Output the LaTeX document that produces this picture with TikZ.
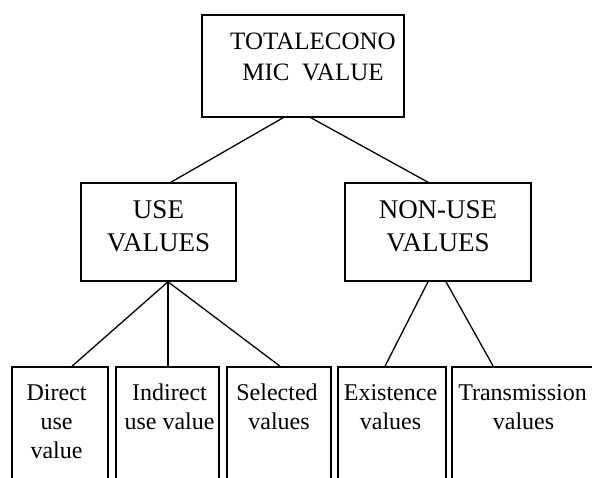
\documentclass[tikz,border=0pt]{standalone}
\usepackage{fontspec}
\setmainfont{Liberation Serif}
\begin{document}
\begin{tikzpicture}[x=1pt,y=-1pt,
  box/.style={draw,line width=1.6pt,inner sep=0pt,rectangle},
  conn/.style={line width=1.3pt},
  big/.style={anchor=base,inner sep=0pt,font=\fontsize{25}{30}\selectfont},
  mid/.style={anchor=base,inner sep=0pt,font=\fontsize{27}{32}\selectfont},
  small/.style={anchor=base,inner sep=0pt,font=\fontsize{24}{28}\selectfont}]
\useasboundingbox (0,0) rectangle (592,477);
\clip (0,0) rectangle (592,477);
% boxes
\node[box,minimum width=202pt,minimum height=102pt] (tev) at (303,66) {};
\node[box,minimum width=155pt,minimum height=98pt] (use) at (158.5,232) {};
\node[box,minimum width=186pt,minimum height=98pt] (non) at (438,232) {};
\node[box,minimum width=96pt,minimum height=128pt] (b1) at (60,431) {};
\node[box,minimum width=103pt,minimum height=128pt] (b2) at (167.5,431) {};
\node[box,minimum width=104pt,minimum height=128pt] (b3) at (279,431) {};
\node[box,minimum width=108pt,minimum height=128pt] (b4) at (392,431) {};
\node[box,minimum width=198pt,minimum height=128pt] (b5) at (551,431) {};
% texts
\node[big] (t1) at (313,49) {TOTALECONO};
\node[big] (t2) at (313,80) {MIC\ \ VALUE};
\node[mid] (u1) at (158.5,218) {USE};
\node[mid] (u2) at (158.5,251) {VALUES};
\node[mid] (n1) at (438,218) {NON-USE};
\node[mid] (n2) at (438,251) {VALUES};
\node[small] (d1) at (56.5,400) {Direct};
\node[small] (d2) at (56.5,429) {use};
\node[small] (d3) at (56.5,458) {value};
\node[small] (i1) at (169.5,400) {Indirect};
\node[small] (i2) at (169.5,429) {use value};
\node[small] (s1) at (277,400) {Selected};
\node[small] (s2) at (279,429) {values};
\node[small] (e1) at (390.5,400) {Existence};
\node[small] (e2) at (390.5,429) {values};
\node[small] (r1) at (522.5,400) {Transmission};
\node[small] (r2) at (523.5,429) {values};
% connectors
\draw[conn] ([xshift=-20pt]tev.south) -- ([xshift=12.5pt]use.north);
\draw[conn] ([xshift=8pt]tev.south) -- ([xshift=-10pt]non.north);
\draw[conn] ([xshift=9.5pt]use.south) -- ([xshift=12pt]b1.north);
\draw[conn] ([xshift=9.5pt]use.south) -- ([xshift=0.5pt]b2.north);
\draw[conn] ([xshift=9.5pt]use.south) -- ([xshift=1pt]b3.north);
\draw[conn] ([xshift=-10pt]non.south) -- ([xshift=-7pt]b4.north);
\draw[conn] ([xshift=8pt]non.south) -- ([xshift=42pt]b5.north west);
\end{tikzpicture}
\end{document}
